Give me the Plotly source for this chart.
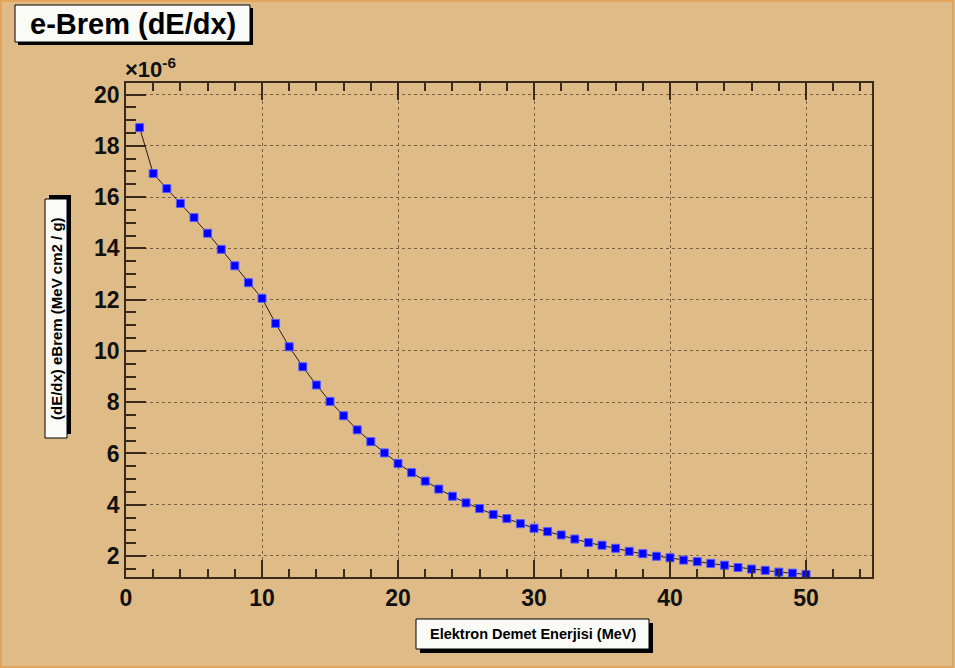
import plotly.graph_objects as go

# ---- data (values in units of 1e-6 MeV cm2 / g) ----
energy_mev = list(range(1, 51))
ebrem_dedx_e6 = [
    18.71, 16.92, 16.33, 15.75, 15.20, 14.59, 13.96, 13.32, 12.66, 12.05,
    11.07, 10.16, 9.38, 8.67, 8.03, 7.47, 6.92, 6.46, 6.02, 5.61,
    5.25, 4.92, 4.61, 4.33, 4.07, 3.85, 3.62, 3.46, 3.26, 3.08,
    2.95, 2.82, 2.66, 2.52, 2.42, 2.30, 2.18, 2.09, 1.99, 1.93,
    1.84, 1.78, 1.71, 1.64, 1.55, 1.49, 1.44, 1.37, 1.33, 1.28,
]
y_multiplier_text = "×10<sup>-6</sup>"
title_text = "e-Brem (dE/dx)"
x_title_text = "Elektron Demet Enerjisi (MeV)"
y_title_text = "(dE/dx) eBrem (MeV cm2 / g)"

W, H = 955, 668
ML, MR, MT, MB = 126, 83, 83, 91
PW, PH = W - ML - MR, H - MT - MB

def fx(px):
    return (px - ML) / PW

def fy(py):
    return (H - MB - py) / PH

BG = "#DEBB87"
DARK = "#3a2a1c"
GRID = "#7a6040"
FONT = "Liberation Sans, Arial, sans-serif"

fig = go.Figure()
fig.add_trace(go.Scatter(
    x=energy_mev, y=ebrem_dedx_e6, mode="lines+markers",
    line=dict(color="#2a1e14", width=1),
    marker=dict(symbol="square", size=8, color="#0000FF",
                line=dict(color="#5a5aff", width=1)),
    hoverinfo="x+y",
))

axis_common = dict(
    showline=True, linecolor=DARK, linewidth=1.5,
    ticks="inside", tickcolor=DARK, tickwidth=1.5,
    showgrid=True, gridcolor=GRID, griddash="dot", gridwidth=1,
    zeroline=False,
    tickfont=dict(family=FONT, size=23, color="#111111", weight="bold"),
)

fig.update_xaxes(
    **axis_common,
    range=[0, 54.85], tick0=0, dtick=10, ticklen=17, mirror="ticks",
    minor=dict(dtick=2, tick0=0, ticks="inside", ticklen=8,
               tickcolor=DARK, tickwidth=1.5, showgrid=False),
)
fig.update_yaxes(
    **axis_common,
    range=[1.18, 20.45], tick0=0, dtick=2, ticklen=20, mirror=True,
    minor=dict(dtick=0.5, tick0=0, ticks="inside", ticklen=10,
               tickcolor=DARK, tickwidth=1.5, showgrid=False),
)

shapes = []
annotations = []

def box(x0, y0, x1, y1, sdx, sdy):
    shapes.append(dict(type="rect", xref="paper", yref="paper",
                       x0=fx(x0 + sdx), x1=fx(x1 + sdx), y0=fy(y1 + sdy), y1=fy(y0 + sdy),
                       fillcolor="black", line=dict(width=0), layer="above"))
    shapes.append(dict(type="rect", xref="paper", yref="paper",
                       x0=fx(x0), x1=fx(x1), y0=fy(y1), y1=fy(y0),
                       fillcolor="#FAFAF7", line=dict(color="black", width=1), layer="above"))

# outer frame
shapes.append(dict(type="rect", xref="paper", yref="paper",
                   x0=fx(1), x1=fx(W - 2), y0=fy(H - 1), y1=fy(1),
                   fillcolor="rgba(0,0,0,0)", line=dict(color="#E3A45C", width=2),
                   layer="below"))

# title box
box(15, 5, 250, 42, 3, 3)
annotations.append(dict(xref="paper", yref="paper", x=fx(132.5), y=fy(24),
                        xanchor="center", yanchor="middle", showarrow=False,
                        text=title_text,
                        font=dict(family=FONT, size=29, color="black", weight="bold")))

# y title box
box(45, 199, 67, 438, 4, -4)
annotations.append(dict(xref="paper", yref="paper", x=fx(56.5), y=fy(318.5),
                        xanchor="center", yanchor="middle", showarrow=False,
                        textangle=-90, text=y_title_text,
                        font=dict(family=FONT, size=15, color="black", weight="bold")))

# x title box
box(416, 619, 649, 649, 4, 4)
annotations.append(dict(xref="paper", yref="paper", x=fx(532.5), y=fy(634),
                        xanchor="center", yanchor="middle", showarrow=False,
                        text=x_title_text,
                        font=dict(family=FONT, size=14.5, color="black", weight="bold")))

# exponent label
annotations.append(dict(xref="paper", yref="paper", x=fx(123), y=fy(84),
                        xanchor="left", yanchor="bottom", showarrow=False,
                        text=y_multiplier_text,
                        font=dict(family=FONT, size=22, color="#111111", weight="bold")))

fig.update_layout(
    width=W, height=H,
    margin=dict(l=ML, r=MR, t=MT, b=MB, autoexpand=False),
    paper_bgcolor=BG, plot_bgcolor=BG,
    showlegend=False,
    shapes=shapes, annotations=annotations,
)

fig.write_html(
    "out.html",
    config={"displayModeBar": False},
    post_script="document.body.style.margin='0';document.body.style.padding='0';"
                "document.body.style.overflow='hidden';",
)
